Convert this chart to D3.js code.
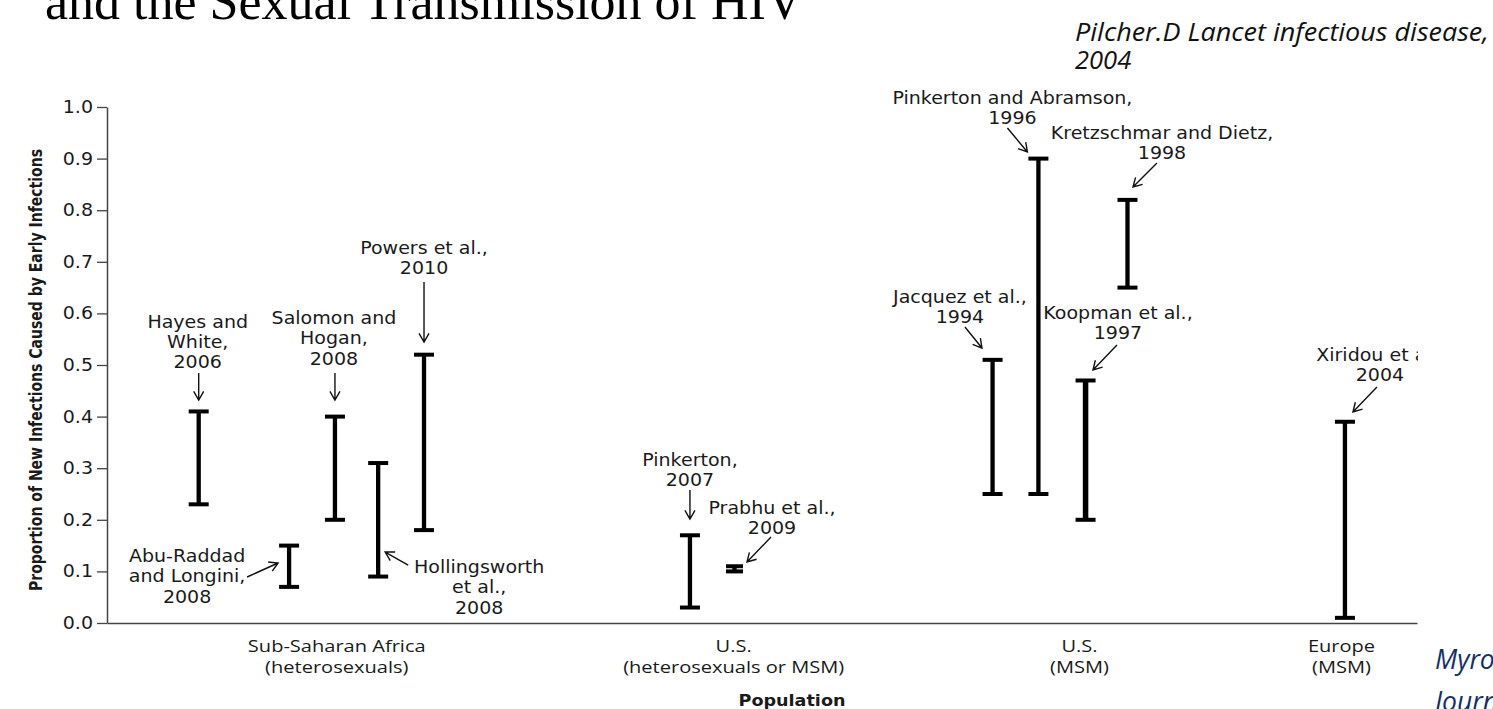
<!DOCTYPE html>
<html><head><meta charset="utf-8">
<script src="https://cdn.jsdelivr.net/npm/d3@7/dist/d3.min.js"></script>
<style>
html,body{margin:0;padding:0;background:#fff;overflow:hidden}
svg{display:block}
</style></head><body>
<svg id="c" width="1493" height="709"></svg>
<script>
// ---------- DATA ----------
const studyLabels = [
  ["Hayes and","White,","2006"],
  ["Abu-Raddad","and Longini,","2008"],
  ["Salomon and","Hogan,","2008"],
  ["Hollingsworth","et al.,","2008"],
  ["Powers et al.,","2010"],
  ["Pinkerton,","2007"],
  ["Prabhu et al.,","2009"],
  ["Jacquez et al.,","1994"],
  ["Pinkerton and Abramson,","1996"],
  ["Koopman et al.,","1997"],
  ["Kretzschmar and Dietz,","1998"],
  ["Xiridou et al.,","2004"]
];
const studyPopulation = ["SSA","SSA","SSA","SSA","SSA","US-het","US-het","US-MSM","US-MSM","US-MSM","US-MSM","EU-MSM"];
const studyX = [7.0, 13.9, 17.4, 20.7, 24.2, 44.5, 47.9, 67.6, 71.1, 74.7, 77.9, 94.5];
const lowValues  = [0.23, 0.07, 0.20, 0.09, 0.18, 0.03, 0.10, 0.25, 0.25, 0.20, 0.65, 0.01];
const highValues = [0.41, 0.15, 0.40, 0.31, 0.52, 0.17, 0.11, 0.51, 0.90, 0.47, 0.82, 0.39];
const categoryLabels = [["Sub-Saharan Africa","(heterosexuals)"],["U.S.","(heterosexuals or MSM)"],["U.S.","(MSM)"],["Europe","(MSM)"]];
const categoryX = [17.5, 47.8, 74.2, 94.2];
const yTicks = [0,0.1,0.2,0.3,0.4,0.5,0.6,0.7,0.8,0.9,1.0];

// ---------- LAYOUT (pixel offsets / styles, not data) ----------
const annLayout = [
  {tx:-1,  ty:-89.7, a:[0,-38.4, 0,-11.4]},
  {tx:-102,ty:10.4,  a:[-42,31.4,-11,17.4]},
  {tx:-1,  ty:-98.6, a:[0,-43.6, 0,-16.6]},
  {tx:101, ty:104,   a:[30,102, 7,89]},
  {tx:0,   ty:-106.7,a:[0,-72.7, 0,-12.7]},
  {tx:0,   ty:-75.3, a:[0,-45.3, 0,-16.3]},
  {tx:37.5,ty:-58.2, a:[36.5,-29.2, 12.5,-4.2]},
  {tx:-32.6,ty:-62.8,a:[-27.6,-32.8,-10.6,-11.8]},
  {tx:-26, ty:-60.6, a:[-31,-30.6,-11,-6.6]},
  {tx:32.4,ty:-67.5, a:[31.4,-35.5, 7.4,-10.5]},
  {tx:34.5,ty:-66.9, a:[29.5,-36.9, 5.5,-12.9]},
  {tx:35,  ty:-66.8, a:[32,-34.8, 8,-9.8]}
];
const barStroke = [4.3,4.3,4.3,4.3,4.3,4.3,4.3,4.3,4.3,5.5,4.3,4.3];
const capW = [20,20,20,20,20,20,17,20,20,20,20,20];
const lineGap = 20.3;
const SX = 1.12; // horizontal stretch of the original artwork's text

const svg = d3.select("#c");
const x = d3.scaleLinear().domain([0,100]).range([107,1417]);
const y = d3.scaleLinear().domain([0,1]).range([623,107]);

// Title (cut at top)
svg.append("text").attr("x",45).attr("y",19)
  .attr("font-family","'Liberation Serif','DejaVu Serif',serif").attr("font-size",52)
  .attr("fill","#000").text("and the Sexual Transmission of HIV");

// citations
const cite = svg.append("g").attr("font-family","'Open Sans',sans-serif").attr("font-style","italic").attr("font-size",25.5).attr("fill","#111");
cite.append("text").attr("x",1075).attr("y",41).attr("textLength",414).attr("lengthAdjust","spacingAndGlyphs").text("Pilcher.D Lancet infectious disease,");
cite.append("text").attr("x",1075).attr("y",69).text("2004");
const cite2 = svg.append("g").attr("font-family","'Open Sans',sans-serif").attr("font-style","italic").attr("font-size",26.5).attr("fill","#132f6b");
cite2.append("text").attr("x",1435).attr("y",669).text("Myron Cohen");
cite2.append("text").attr("x",1435).attr("y",711).text("Journal");

// chart group clipped on the right
svg.append("clipPath").attr("id","clipR").append("rect").attr("x",0).attr("y",75).attr("width",1418).attr("height",634);
const g = svg.append("g").attr("clip-path","url(#clipR)");

// Y axis
const yAxis = d3.axisLeft(y).tickValues(yTicks).tickFormat(d3.format(".1f")).tickSize(10).tickSizeOuter(0).tickPadding(4);
const ya = g.append("g").attr("transform","translate(107,0)").call(yAxis);
ya.select(".domain").attr("stroke","#444").attr("stroke-width",1.5);
ya.selectAll(".tick line").attr("stroke","#444").attr("stroke-width",1.3);
ya.selectAll(".tick text").attr("font-family","'DejaVu Sans',sans-serif").attr("font-size",17).attr("fill","#1a1a1a")
  .attr("x",-14/SX).attr("transform",`scale(${SX},1)`);

// X axis
const xAxis = d3.axisBottom(x).tickValues(categoryX).tickSize(0).tickSizeOuter(0).tickFormat(() => "");
const xa = g.append("g").attr("transform","translate(0,623)").call(xAxis);
xa.select(".domain").attr("stroke","#444").attr("stroke-width",1.5);
xa.selectAll(".tick").each(function(d,i){
  const t = d3.select(this).select("text").attr("font-family","'Open Sans',sans-serif").attr("font-size",17)
    .attr("fill","#1a1a1a").attr("y",0).attr("dy",null).attr("transform","scale(1.18,1)");
  categoryLabels[i].forEach((s,k)=>{
    t.append("tspan").attr("x",0).attr("y",22 + k*21).attr("dominant-baseline","central").text(s);
  });
});

// y axis title
g.append("text").attr("transform","translate(35,370) rotate(-90)")
  .attr("text-anchor","middle").attr("dominant-baseline","central")
  .attr("font-family","'DejaVu Sans Condensed','DejaVu Sans',sans-serif").attr("font-weight","bold").attr("font-size",18)
  .attr("textLength",442).attr("lengthAdjust","spacingAndGlyphs")
  .attr("fill","#1a1a1a").text("Proportion of New Infections Caused by Early Infections");

// x axis title
g.append("text").attr("transform","translate(792,700) scale(1.1,1)").attr("text-anchor","middle").attr("dominant-baseline","central")
  .attr("font-family","'DejaVu Sans',sans-serif").attr("font-weight","bold").attr("font-size",16)
  .attr("fill","#1a1a1a").text("Population");

// Range bars
const idx = d3.range(studyX.length);
const bars = g.append("g").selectAll("g").data(idx).join("g").attr("stroke","#000").attr("fill","none");
bars.append("line").attr("x1",i=>x(studyX[i])).attr("x2",i=>x(studyX[i]))
  .attr("y1",i=>y(lowValues[i])).attr("y2",i=>y(highValues[i])).attr("stroke-width",i=>barStroke[i]);
bars.append("line").attr("x1",i=>x(studyX[i])-capW[i]/2).attr("x2",i=>x(studyX[i])+capW[i]/2)
  .attr("y1",i=>y(highValues[i])).attr("y2",i=>y(highValues[i])).attr("stroke-width",4);
bars.append("line").attr("x1",i=>x(studyX[i])-capW[i]/2).attr("x2",i=>x(studyX[i])+capW[i]/2)
  .attr("y1",i=>y(lowValues[i])).attr("y2",i=>y(lowValues[i])).attr("stroke-width",4);

// Annotations
const ann = g.append("g");
idx.forEach(i=>{
  const bx = x(studyX[i]), by = y(highValues[i]);
  const L = annLayout[i];
  const t = ann.append("text").attr("text-anchor","middle")
    .attr("transform",`translate(${bx+L.tx},${by+L.ty}) scale(${SX},1)`)
    .attr("font-family","'DejaVu Sans',sans-serif").attr("font-size",17).attr("fill","#1a1a1a");
  studyLabels[i].forEach((s,k)=>{
    t.append("tspan").attr("x",0).attr("y",k*lineGap).attr("dominant-baseline","central").text(s);
  });
  const x1=bx+L.a[0], y1=by+L.a[1], x2=bx+L.a[2], y2=by+L.a[3];
  const ang = Math.atan2(y2-y1,x2-x1), hl=10, ha=Math.PI/6;
  ann.append("path").attr("fill","none").attr("stroke","#111").attr("stroke-width",1.4)
    .attr("d",`M${x1},${y1}L${x2},${y2}M${x2-hl*Math.cos(ang-ha)},${y2-hl*Math.sin(ang-ha)}L${x2},${y2}L${x2-hl*Math.cos(ang+ha)},${y2-hl*Math.sin(ang+ha)}`);
});
</script>
</body></html>
